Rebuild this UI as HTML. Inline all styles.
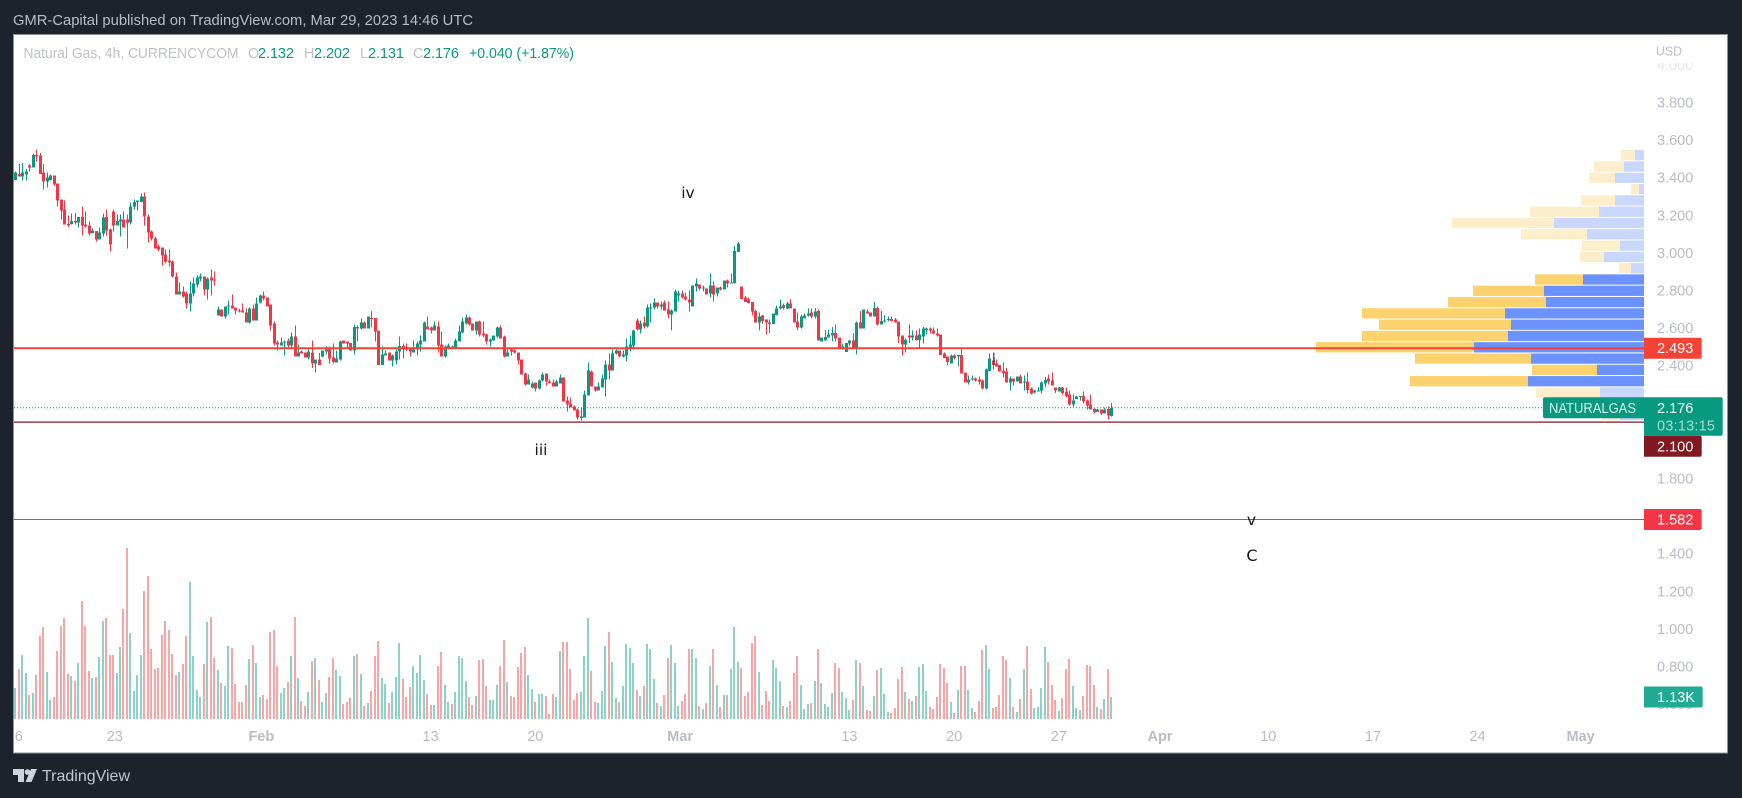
<!DOCTYPE html>
<html lang="en">
<head>
<meta charset="utf-8">
<title>Natural Gas, 4h chart</title>
<style>
html,body{margin:0;padding:0;background:#1e222d;width:1742px;height:798px;overflow:hidden}
svg{display:block;font-family:"Liberation Sans",sans-serif}
</style>
</head>
<body>
<svg id="chart" xmlns="http://www.w3.org/2000/svg" width="1742" height="798" viewBox="0 0 1742 798">
  <defs><clipPath id="plotClip"><rect x="14" y="35" width="1630" height="717"/></clipPath>
  <clipPath id="axisClip"><rect x="1644" y="63" width="84" height="650"/></clipPath></defs>
  <rect x="0" y="0" width="1742" height="798" fill="#1e222d"/>
  <text x="13" y="25" font-size="14.5" fill="#b9bcc5" textLength="460" lengthAdjust="spacingAndGlyphs">GMR-Capital published on TradingView.com, Mar 29, 2023 14:46 UTC</text>
  <rect x="13.5" y="34.5" width="1714" height="718.5" fill="#ffffff" stroke="#8f9197" stroke-width="1"/>
  <g id="profile"></g>
  <g id="volumesG" clip-path="url(#plotClip)" shape-rendering="crispEdges"></g>
  <g id="candlesG" clip-path="url(#plotClip)" shape-rendering="crispEdges"></g>
  <g id="levelsG"></g>
  <g font-size="14.5">
    <text x="23.5" y="58" fill="#bfc1c9" textLength="215" lengthAdjust="spacingAndGlyphs">Natural Gas, 4h, CURRENCYCOM</text>
    <text x="248" y="58" fill="#bfc1c9">O</text>
    <text x="258" y="58" fill="#089981" textLength="36">2.132</text>
    <text x="304" y="58" fill="#bfc1c9">H</text>
    <text x="314" y="58" fill="#089981" textLength="36">2.202</text>
    <text x="360" y="58" fill="#bfc1c9">L</text>
    <text x="368" y="58" fill="#089981" textLength="36">2.131</text>
    <text x="413" y="58" fill="#bfc1c9">C</text>
    <text x="423" y="58" fill="#089981" textLength="36">2.176</text>
    <text x="469" y="58" fill="#089981" textLength="105" lengthAdjust="spacingAndGlyphs">+0.040 (+1.87%)</text>
  </g>
  <text x="1656" y="55.5" font-size="13" fill="#b9bcc5" textLength="26" lengthAdjust="spacingAndGlyphs">USD</text>
  <g id="priceAxis" clip-path="url(#axisClip)" font-size="14.5" fill="#b9bcc5"></g>
  <g id="timeAxis" font-size="14.5" fill="#b9bcc5"></g>
  <g id="tagsG" font-size="14.5"></g>
  <g fill="#131722" font-size="15.5" style="font-family:'DejaVu Sans',sans-serif">
    <text x="688" y="198" text-anchor="middle">iv</text>
    <text x="541" y="455" text-anchor="middle">iii</text>
    <text x="994" y="365" text-anchor="middle" fill="#4a4d57">i</text>
    <text x="1251.5" y="525" text-anchor="middle">v</text>
    <text x="1252" y="561" text-anchor="middle" font-size="16">C</text>
  </g>
  <g fill="#d1d4dc">
    <path d="M13 769H24V782H18V775H13Z M37 769H31L25.500 782H31.500Z"/>
    <circle cx="27.500" cy="772" r="2.800"/>
    <text x="42" y="781" font-size="16" fill="#c3c6ce" textLength="88" lengthAdjust="spacingAndGlyphs">TradingView</text>
  </g>
</svg>
<script>
// ---- chart data ----
const opens = [
3.389,3.421,3.407,3.418,3.464,3.453,3.522,3.517,3.427,3.379,
3.389,3.411,3.368,3.283,3.230,3.155,3.155,3.170,3.161,3.191,
3.150,3.145,3.106,3.116,3.070,3.102,3.191,3.124,3.219,3.145,
3.168,3.177,3.177,3.161,3.246,3.272,3.272,3.299,3.193,3.113,
3.076,3.033,3.028,2.991,2.959,2.953,2.874,2.778,2.794,2.783,
2.730,2.783,2.831,2.863,2.874,2.805,2.868,2.858,2.666,2.698,
2.661,2.714,2.720,2.709,2.693,2.693,2.682,2.629,2.704,2.640,
2.735,2.773,2.762,2.725,2.624,2.523,2.507,2.523,2.533,2.507,
2.555,2.448,2.475,2.470,2.443,2.471,2.411,2.432,2.448,2.475,
2.485,2.443,2.416,2.432,2.533,2.528,2.522,2.480,2.607,2.597,
2.629,2.597,2.655,2.655,2.586,2.405,2.454,2.469,2.427,2.427,
2.475,2.506,2.496,2.496,2.470,2.486,2.512,2.528,2.608,2.603,
2.587,2.608,2.512,2.449,2.496,2.502,2.496,2.528,2.576,2.624,
2.656,2.624,2.587,2.635,2.571,2.565,2.528,2.534,2.555,2.603,
2.555,2.449,2.486,2.480,2.470,2.433,2.358,2.300,2.284,2.310,
2.278,2.321,2.358,2.316,2.310,2.289,2.305,2.337,2.215,2.199,
2.183,2.167,2.121,2.124,2.241,2.369,2.289,2.268,2.284,2.326,
2.406,2.374,2.464,2.480,2.449,2.454,2.496,2.507,2.640,2.592,
2.629,2.608,2.704,2.709,2.735,2.714,2.735,2.698,2.672,2.688,
2.773,2.783,2.767,2.751,2.714,2.821,2.831,2.810,2.810,2.783,
2.826,2.783,2.815,2.805,2.853,2.837,2.840,3.006,2.820,2.762,
2.751,2.740,2.692,2.629,2.666,2.645,2.629,2.623,2.671,2.703,
2.723,2.703,2.730,2.703,2.634,2.602,2.655,2.666,2.682,2.661,
2.692,2.528,2.533,2.549,2.560,2.575,2.549,2.485,2.474,2.517,
2.533,2.496,2.629,2.597,2.687,2.682,2.661,2.708,2.618,2.634,
2.643,2.648,2.645,2.634,2.560,2.512,2.560,2.549,2.560,2.538,
2.554,2.591,2.597,2.586,2.570,2.565,2.464,2.448,2.411,2.453,
2.448,2.458,2.363,2.310,2.326,2.331,2.326,2.320,2.278,2.373,
2.427,2.411,2.405,2.373,2.368,2.310,2.331,2.315,2.342,2.310,
2.315,2.278,2.257,2.262,2.267,2.304,2.331,2.320,2.283,2.262,
2.283,2.262,2.246,2.193,2.224,2.235,2.240,2.214,2.193,2.171,
2.155,2.166,2.145,2.171,2.132];
const highs = [
3.434,3.474,3.478,3.446,3.474,3.528,3.549,3.531,3.474,3.428,
3.416,3.411,3.368,3.283,3.278,3.198,3.209,3.212,3.191,3.248,
3.219,3.166,3.129,3.116,3.134,3.209,3.230,3.129,3.230,3.203,
3.203,3.219,3.203,3.267,3.283,3.278,3.315,3.320,3.203,3.118,
3.086,3.044,3.028,3.017,3.017,2.959,2.895,2.842,2.821,2.794,
2.847,2.868,2.879,2.890,2.874,2.868,2.911,2.900,2.714,2.698,
2.714,2.746,2.778,2.709,2.704,2.730,2.704,2.709,2.725,2.762,
2.778,2.794,2.762,2.725,2.634,2.533,2.549,2.533,2.544,2.576,
2.613,2.512,2.480,2.470,2.486,2.533,2.432,2.467,2.480,2.503,
2.503,2.517,2.480,2.533,2.533,2.528,2.522,2.618,2.613,2.650,
2.634,2.661,2.692,2.655,2.586,2.501,2.480,2.469,2.459,2.485,
2.554,2.517,2.518,2.496,2.534,2.528,2.560,2.635,2.661,2.608,
2.635,2.635,2.581,2.507,2.518,2.507,2.544,2.613,2.656,2.672,
2.661,2.624,2.635,2.640,2.635,2.571,2.544,2.560,2.608,2.613,
2.560,2.486,2.496,2.486,2.470,2.433,2.363,2.353,2.316,2.310,
2.326,2.363,2.358,2.326,2.326,2.326,2.353,2.337,2.236,2.231,
2.188,2.172,2.177,2.268,2.417,2.374,2.289,2.310,2.353,2.427,
2.464,2.486,2.486,2.480,2.480,2.544,2.560,2.592,2.650,2.640,
2.661,2.725,2.730,2.757,2.735,2.741,2.746,2.741,2.698,2.805,
2.799,2.799,2.789,2.799,2.826,2.863,2.831,2.826,2.810,2.890,
2.847,2.815,2.820,2.853,2.858,2.890,3.038,3.059,2.820,2.772,
2.762,2.740,2.698,2.682,2.671,2.645,2.645,2.677,2.719,2.751,
2.730,2.740,2.751,2.703,2.682,2.671,2.677,2.703,2.703,2.708,
2.698,2.549,2.591,2.591,2.607,2.618,2.549,2.517,2.522,2.538,
2.575,2.634,2.692,2.698,2.698,2.682,2.740,2.714,2.692,2.671,
2.661,2.661,2.655,2.634,2.560,2.544,2.618,2.586,2.586,2.597,
2.607,2.602,2.602,2.602,2.597,2.565,2.469,2.448,2.459,2.459,
2.458,2.492,2.363,2.347,2.347,2.336,2.342,2.326,2.384,2.464,
2.471,2.432,2.405,2.416,2.389,2.342,2.331,2.342,2.352,2.347,
2.363,2.283,2.272,2.288,2.315,2.341,2.352,2.363,2.283,2.288,
2.288,2.283,2.267,2.246,2.240,2.240,2.262,2.219,2.246,2.177,
2.171,2.166,2.177,2.182,2.202];
const lows = [
3.389,3.407,3.386,3.386,3.434,3.453,3.487,3.421,3.336,3.349,
3.389,3.357,3.248,3.177,3.150,3.138,3.150,3.150,3.134,3.092,
3.134,3.092,3.102,3.060,3.070,3.086,3.092,3.007,3.113,3.145,
3.086,3.134,3.023,3.150,3.230,3.225,3.272,3.145,3.054,3.065,
3.023,3.007,2.932,2.943,2.927,2.868,2.778,2.778,2.762,2.704,
2.688,2.767,2.815,2.847,2.773,2.751,2.773,2.826,2.666,2.661,
2.650,2.672,2.704,2.672,2.682,2.682,2.629,2.624,2.640,2.640,
2.730,2.746,2.714,2.587,2.507,2.480,2.507,2.454,2.491,2.496,
2.448,2.448,2.464,2.443,2.433,2.388,2.365,2.405,2.444,2.459,
2.411,2.411,2.416,2.427,2.517,2.494,2.480,2.459,2.528,2.592,
2.597,2.597,2.602,2.528,2.405,2.405,2.454,2.427,2.397,2.406,
2.432,2.437,2.477,2.448,2.470,2.454,2.475,2.528,2.592,2.571,
2.587,2.470,2.449,2.443,2.486,2.486,2.496,2.528,2.571,2.619,
2.613,2.587,2.565,2.555,2.550,2.512,2.502,2.534,2.550,2.544,
2.443,2.449,2.454,2.464,2.406,2.353,2.294,2.300,2.278,2.262,
2.273,2.316,2.294,2.305,2.289,2.289,2.305,2.209,2.156,2.177,
2.161,2.114,2.108,2.124,2.241,2.289,2.262,2.268,2.284,2.236,
2.326,2.374,2.459,2.443,2.443,2.422,2.475,2.486,2.587,2.571,
2.597,2.603,2.629,2.698,2.704,2.698,2.693,2.650,2.587,2.688,
2.741,2.757,2.746,2.688,2.714,2.794,2.799,2.794,2.778,2.762,
2.741,2.767,2.799,2.805,2.815,2.837,2.836,3.006,2.756,2.740,
2.730,2.666,2.629,2.586,2.623,2.565,2.575,2.623,2.666,2.698,
2.698,2.698,2.703,2.629,2.591,2.597,2.650,2.661,2.650,2.650,
2.533,2.528,2.533,2.549,2.528,2.528,2.485,2.485,2.474,2.506,
2.496,2.459,2.597,2.597,2.677,2.661,2.661,2.613,2.618,2.629,
2.634,2.634,2.629,2.522,2.453,2.469,2.522,2.533,2.533,2.496,
2.517,2.565,2.570,2.565,2.554,2.458,2.442,2.400,2.411,2.432,
2.395,2.358,2.310,2.299,2.320,2.315,2.299,2.273,2.273,2.373,
2.379,2.395,2.368,2.336,2.310,2.267,2.294,2.315,2.304,2.267,
2.256,2.246,2.251,2.262,2.251,2.288,2.299,2.294,2.256,2.262,
2.246,2.230,2.187,2.182,2.224,2.214,2.198,2.166,2.166,2.145,
2.155,2.139,2.145,2.113,2.131];
const closes = [
3.428,3.407,3.427,3.432,3.453,3.522,3.513,3.421,3.380,3.400,
3.411,3.363,3.278,3.226,3.150,3.145,3.171,3.163,3.191,3.145,
3.141,3.102,3.118,3.070,3.108,3.187,3.118,3.044,3.145,3.171,
3.177,3.134,3.161,3.246,3.272,3.278,3.299,3.193,3.108,3.076,
3.023,3.017,2.985,2.953,2.948,2.874,2.778,2.794,2.767,2.730,
2.783,2.836,2.868,2.874,2.805,2.863,2.852,2.852,2.698,2.661,
2.714,2.720,2.704,2.693,2.688,2.682,2.629,2.704,2.640,2.730,
2.773,2.757,2.714,2.613,2.518,2.512,2.523,2.528,2.507,2.555,
2.448,2.470,2.464,2.443,2.475,2.411,2.432,2.405,2.480,2.485,
2.437,2.421,2.437,2.528,2.517,2.517,2.480,2.607,2.597,2.629,
2.597,2.661,2.650,2.581,2.405,2.459,2.464,2.427,2.453,2.475,
2.506,2.485,2.486,2.475,2.486,2.518,2.534,2.629,2.592,2.587,
2.613,2.507,2.449,2.502,2.507,2.496,2.534,2.581,2.635,2.656,
2.619,2.587,2.635,2.565,2.560,2.528,2.539,2.560,2.603,2.544,
2.449,2.470,2.475,2.470,2.427,2.353,2.300,2.326,2.305,2.278,
2.321,2.353,2.316,2.308,2.289,2.316,2.337,2.209,2.193,2.177,
2.161,2.124,2.130,2.247,2.374,2.289,2.268,2.289,2.332,2.406,
2.374,2.464,2.480,2.449,2.459,2.502,2.512,2.587,2.592,2.624,
2.608,2.709,2.709,2.735,2.714,2.725,2.693,2.672,2.693,2.794,
2.783,2.762,2.751,2.736,2.826,2.837,2.810,2.815,2.778,2.826,
2.778,2.815,2.805,2.853,2.837,2.842,3.011,3.049,2.756,2.740,
2.733,2.687,2.629,2.661,2.639,2.629,2.623,2.677,2.703,2.714,
2.708,2.730,2.703,2.629,2.602,2.661,2.666,2.677,2.661,2.687,
2.533,2.549,2.552,2.565,2.575,2.544,2.490,2.501,2.522,2.533,
2.496,2.629,2.597,2.698,2.677,2.661,2.708,2.618,2.639,2.641,
2.648,2.637,2.629,2.554,2.512,2.538,2.549,2.560,2.538,2.565,
2.597,2.597,2.586,2.570,2.560,2.458,2.442,2.421,2.453,2.442,
2.458,2.358,2.310,2.326,2.331,2.320,2.315,2.278,2.379,2.437,
2.405,2.395,2.368,2.361,2.310,2.331,2.315,2.342,2.304,2.315,
2.272,2.251,2.267,2.267,2.310,2.325,2.315,2.294,2.267,2.283,
2.256,2.240,2.193,2.214,2.235,2.240,2.209,2.187,2.166,2.155,
2.166,2.145,2.166,2.134,2.176];
const volumes = [
1.59,2.56,3.28,2.36,1.23,1.33,2.26,4.26,4.72,2.41,
.97,1.13,3.49,4.77,5.18,2.31,2.21,1.95,2.87,6.05,
4.77,2.46,2.10,2.15,3.18,5.03,5.18,3.28,3.28,2.36,
3.69,5.64,8.77,4.41,1.44,2.26,3.28,6.56,7.33,3.59,
2.56,2.62,4.31,5.03,4.56,3.33,2.26,2.41,2.82,4.26,
7.03,3.23,1.49,1.13,2.82,4.97,5.23,3.13,2.51,1.85,
1.69,3.74,3.64,1.79,.87,.87,1.74,3.08,3.79,2.87,
1.13,1.23,1.03,4.46,4.56,2.72,1.33,1.59,1.90,3.23,
5.23,2.10,.92,.67,1.38,2.97,3.13,2.00,.87,1.33,
2.15,3.13,2.51,2.21,.77,.87,1.08,3.23,3.33,2.31,
.67,.82,1.44,3.23,4.00,2.10,1.79,.82,1.38,2.15,
3.90,2.05,1.13,1.64,2.72,2.36,3.28,2.00,1.28,.72,
.72,2.72,3.44,1.74,.87,.77,1.38,3.23,3.13,1.95,
1.13,.72,1.18,3.03,3.08,1.69,.97,.97,1.74,2.72,
4.05,1.90,1.18,1.13,2.67,3.38,3.69,2.26,1.54,.87,
1.28,1.28,1.18,.26,1.28,1.13,3.49,3.95,3.95,2.56,
.97,1.33,1.38,3.23,5.18,2.46,.87,.82,1.44,3.74,
4.46,2.92,1.08,.87,1.69,3.85,3.64,2.87,1.49,1.18,
1.69,3.85,3.59,2.05,.82,.67,1.23,3.13,3.79,2.87,
.67,.92,1.28,3.59,3.59,3.13,.67,.51,.82,2.72,
3.59,1.74,.62,1.23,1.23,2.56,4.72,2.92,2.62,1.18,
1.38,3.90,4.26,2.41,.72,1.44,.92,3.03,2.62,1.95,
.67,.62,.92,2.36,3.23,1.74,.51,.77,.82,1.95,
3.59,1.85,.77,.62,1.33,2.87,2.62,1.38,1.08,.46,
.97,3.03,2.87,1.69,.46,.41,1.18,2.51,2.62,1.28,
.36,.31,.56,2.05,2.67,1.38,1.03,.92,1.18,2.67,
2.82,1.44,.62,.51,1.13,2.82,2.62,1.85,.87,.31,
1.49,2.72,2.72,1.49,.56,.36,.92,3.54,3.79,2.56,
.56,.62,1.23,3.23,3.03,2.10,.62,.36,1.03,2.56,
3.74,1.54,.56,.62,1.59,3.69,2.92,1.74,.97,.41,
1.08,2.56,3.08,1.69,.56,.46,1.18,2.77,2.72,1.74,
.62,.51,1.03,2.56,1.13];
const priceTicks = [4.0,3.8,3.6,3.4,3.2,3.0,2.8,2.6,2.4,2.2,2.0,1.8,1.6,1.4,1.2,1.0,0.8,0.6];
const timeLabels = ["6","23","Feb","13","20","Mar","13","20","27","Apr","10","17","24","May"];
const timeBars = [1,28.5,70.5,119,149,190.5,239,269,299,328,359,389,419,448.5];
const timeMajor = ["Feb","Mar","Apr","May"];
const supportLevel = 2.100;
const resistanceLevel = 2.493;
const targetLevel = 1.582;
const profileTopPrice = 3.547;
const profileStep = 0.0601;
const profileUp = [9,20,29,5,29,45,90,57,24,40,13,61,100,98,139,133,136,170,113,47,116,44,30,24];
const profileDown = [14,30,26,8,34,69,102,66,38,24,12,48,71,98,143,132,146,158,116,65,118,64,50,18];
const valueAreaFirst = 11;
const valueAreaLast = 20;
const lastVolumeLabel = "1.13K";
const symbolName = "NATURALGAS";
const countdown = "03:13:15";

// ---- scales ----
const SVGNS = "http://www.w3.org/2000/svg";
const yP = p => 102.5 + (3.8 - p) * 188;
const xB = i => 15.3 + 3.49 * i;
const yV = v => 719 - v * 19.5;
function mk(tag, attrs, parent, txt) {
  const n = document.createElementNS(SVGNS, tag);
  for (const k in attrs) n.setAttribute(k, attrs[k]);
  if (txt !== undefined) n.textContent = txt;
  parent.appendChild(n);
  return n;
}
const UP = "#089981", DOWN = "#f23645", VUP = "#8dd2c7", VDOWN = "#f7a5a6";

// volume profile
const profile = document.getElementById("profile");
profileUp.forEach((u, r) => {
  const top = yP(profileTopPrice - profileStep * r);
  const bot = yP(profileTopPrice - profileStep * (r + 1)) - 1;
  const solid = r >= valueAreaFirst && r <= valueAreaLast;
  const d = profileDown[r];
  const upRect = mk("rect", {x: 1644 - u, y: top, width: u, height: bot - top, fill: solid ? "#6b92ff" : "#c9d7fd"}, profile);
  
  
  const downRect = mk("rect", {x: 1644 - u - d, y: top, width: d, height: bot - top, fill: solid ? "#fcd26e" : "#fdeecb"}, profile);
  
  
});

// volumes
const volG = document.getElementById("volumesG");
volumes.forEach((v, i) => {
  const up = closes[i] >= opens[i];
  const left = Math.round(xB(i)) - 1;
  const bar = mk("rect", {x: left, y: yV(v), width: 2, height: 719 - yV(v), fill: up ? VUP : VDOWN}, volG);
  
  
});

// candles
const cG = document.getElementById("candlesG");
opens.forEach((o, i) => {
  const c = closes[i], up = c >= o, col = up ? UP : DOWN;
  const cx = Math.round(xB(i));
  const g = mk("g", {}, cG);
  
  
  const wick = mk("rect", {x: cx, y: yP(highs[i]), width: 1, height: Math.max(1, yP(lows[i]) - yP(highs[i])), fill: col}, g);
  
  
  const bt = yP(Math.max(o, c)), bb = yP(Math.min(o, c));
  const body = mk("rect", {x: cx - 1, y: bt, width: 3, height: Math.max(1, bb - bt), fill: col}, g);
  
  
});

// horizontal levels
const lv = document.getElementById("levelsG");
const lastClose = closes[closes.length - 1];
const rLine = mk("line", {x1: 14, x2: 1644, y1: yP(resistanceLevel), y2: yP(resistanceLevel), stroke: "#f44336", "stroke-width": 2}, lv);


const sLine = mk("line", {x1: 14, x2: 1644, y1: yP(supportLevel), y2: yP(supportLevel), stroke: "#801922", "stroke-width": 1.2}, lv);


const tLine = mk("line", {x1: 14, x2: 1644, y1: yP(targetLevel), y2: yP(targetLevel), stroke: "#f23645", "stroke-width": 1}, lv);


const pLine = mk("line", {x1: 14, x2: 1543, y1: yP(lastClose), y2: yP(lastClose), stroke: "#089981", "stroke-width": 1, "stroke-dasharray": "1 2"}, lv);



// price axis
const pa = document.getElementById("priceAxis");
priceTicks.forEach(t => {
  const y = yP(t);
  const lbl = mk("text", {x: 1657, y: y + 5, opacity: y < 70 ? 0.35 : 1}, pa, t.toFixed(3));
  
  
});

// time axis
const ta = document.getElementById("timeAxis");
timeLabels.forEach((t, i) => {
  const major = timeMajor.includes(t);
  const lbl = mk("text", {x: xB(timeBars[i]), y: 741, "text-anchor": "middle", "font-weight": major ? "bold" : "normal"}, ta, t);
  
  
});

// price tags
const tags = document.getElementById("tagsG");
function tagPath(y, h, right) {
  return "M1644 " + y + "H" + (right - 2) + "a2 2 0 0 1 2 2V" + (y + h - 2) + "a2 2 0 0 1 -2 2H1644Z";
}
const lastTop = yP(lastClose) - 10.5;
const lastBottom = lastTop + 38.5;

const nameTag = mk("path", {d: "M1644 " + lastTop + "H1545a2 2 0 0 0 -2 2V" + (lastTop + 19) + "a2 2 0 0 0 2 2H1644Z", fill: "#089981"}, tags);


const nameTxt = mk("text", {x: 1549, y: lastTop + 15.5, fill: "#d7f0ea", textLength: 87, lengthAdjust: "spacingAndGlyphs"}, tags, symbolName);


const lastBox = mk("path", {d: tagPath(lastTop, 38.5, 1722.7), fill: "#089981"}, tags);


const lastTxt = mk("text", {x: 1657, y: lastTop + 15.5, fill: "#ffffff"}, tags, lastClose.toFixed(3));


const cdTxt = mk("text", {x: 1657, y: lastTop + 33, fill: "#a9dcd2", textLength: 58}, tags, countdown);



const rTagY = yP(resistanceLevel) - 10.5;
const rTag = mk("path", {d: tagPath(rTagY, 21, 1701.7), fill: "#f44336"}, tags);


const rTxt = mk("text", {x: 1657, y: rTagY + 15.5, fill: "#ffffff"}, tags, resistanceLevel.toFixed(3));



const sTagY = Math.max(yP(supportLevel) - 10.5, lastBottom);
const sTag = mk("path", {d: tagPath(sTagY, 21, 1701.7), fill: "#801922"}, tags);


const sTxt = mk("text", {x: 1657, y: sTagY + 15.5, fill: "#ffffff"}, tags, supportLevel.toFixed(3));



const tTagY = yP(targetLevel) - 10.5;
const tTag = mk("path", {d: tagPath(tTagY, 21, 1701.7), fill: "#f23645"}, tags);


const tTxt = mk("text", {x: 1657, y: tTagY + 15.5, fill: "#ffffff"}, tags, targetLevel.toFixed(3));



const vTagY = yV(volumes[volumes.length - 1]) - 10.5 ;
const vTag = mk("path", {d: tagPath(vTagY, 21, 1702.7), fill: "#22ab94"}, tags);


const vTxt = mk("text", {x: 1657, y: vTagY + 15.5, fill: "#ffffff"}, tags, lastVolumeLabel);


</script>
</body>
</html>
